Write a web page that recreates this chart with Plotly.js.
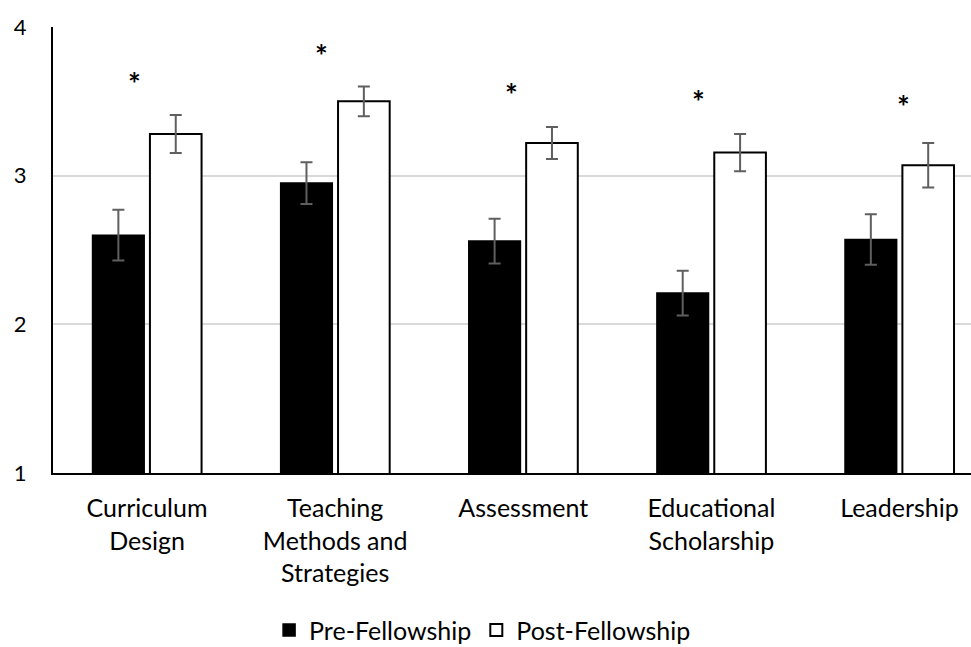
<!DOCTYPE html>
<html>
<head>
<meta charset="utf-8">
<script src="https://cdn.plot.ly/plotly-3.0.1.min.js"></script>
<style>html,body{margin:0;padding:0;background:#fff;}#chart{width:971px;height:647px;}</style>
</head>
<body>
<div id="chart"></div>
<script>
// Data
const categories = ["Curriculum<br>Design", "Teaching<br>Methods and<br>Strategies", "Assessment", "Educational<br>Scholarship", "Leadership"];
const preValues = [2.60, 2.95, 2.56, 2.21, 2.57];
const preErrors = [0.17, 0.14, 0.15, 0.15, 0.17];
const postValues = [3.28, 3.50, 3.22, 3.155, 3.07];
const postErrors = [0.128, 0.10, 0.108, 0.125, 0.15];
const sigLabels = ["*", "*", "*", "*", "*"];
const sigY = [3.62, 3.81, 3.55, 3.50, 3.47];
const yTicks = [1, 2, 3, 4];

// Styling (positions only)
const sigXShift = [-13, -14, -12, -13, 4];
const FONT = "Lato, 'Open Sans', sans-serif";

const traces = [
  {
    type: "bar", name: "Pre-Fellowship", x: categories, y: preValues,
    marker: {color: "#000000", line: {color: "#000000", width: 1.5}},
    error_y: {type: "data", array: preErrors, visible: true, color: "#5f5f5f", thickness: 2, width: 6}
  },
  {
    type: "bar", name: "Post-Fellowship", x: categories, y: postValues,
    marker: {color: "#ffffff", line: {color: "#000000", width: 2}},
    error_y: {type: "data", array: postErrors, visible: true, color: "#5f5f5f", thickness: 2, width: 6}
  }
];

const annotations = categories.map((c, i) => ({
  x: c, y: sigY[i], xref: "x", yref: "y", text: "<b>" + sigLabels[i] + "</b>",
  showarrow: false, xshift: sigXShift[i], font: {family: FONT, size: 30, color: "#000"}
}));

const layout = {
  width: 971, height: 647,
  margin: {l: 53, r: 0, t: 27, b: 174},
  paper_bgcolor: "#ffffff", plot_bgcolor: "#ffffff",
  font: {family: FONT, size: 25, color: "#000"},
  barmode: "group", bargap: 0.39, bargroupgap: 0.1,
  showlegend: true,
  legend: {orientation: "h", x: 0.497, xanchor: "center", xref: "container",
           y: 0.026, yanchor: "middle", yref: "container",
           font: {family: FONT, size: 25, color: "#000"}, itemwidth: 30, traceorder: "normal"},
  xaxis: {
    type: "category", range: [-0.5, 4.38], showline: true, linecolor: "#000", linewidth: 2,
    ticks: "", showgrid: false, ticklabelstandoff: 12,
    tickfont: {family: FONT, size: 25, color: "#000"}, automargin: false
  },
  yaxis: {
    range: [1, 4], tickvals: yTicks, ticktext: yTicks.map(String), showline: true,
    linecolor: "#000", linewidth: 2, showgrid: true, gridcolor: "#d9d9d9", gridwidth: 2,
    zeroline: false, ticks: "", ticklabelstandoff: 20, automargin: false,
    tickfont: {family: FONT, size: 22, color: "#000"}
  },
  annotations: annotations
};

Plotly.newPlot("chart", traces, layout, {displayModeBar: false, staticPlot: true});
</script>
</body>
</html>
